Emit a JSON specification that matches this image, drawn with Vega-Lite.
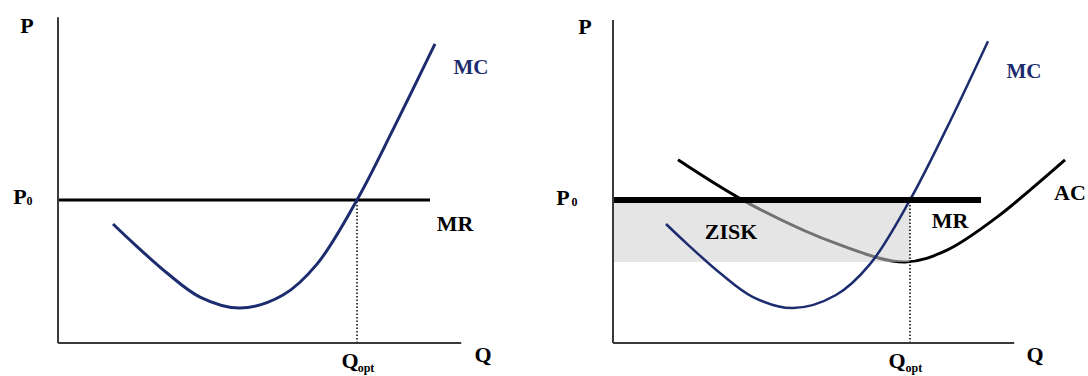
{
  "$schema": "https://vega.github.io/schema/vega-lite/v6.json",
  "padding": 0,
  "spacing": 0,
  "background": "white",
  "config": {
    "view": {"stroke": null},
    "text": {"font": "Liberation Serif", "fontWeight": "bold"}
  },
  "datasets": {
    "mc_left": [
      {"q": 1.375, "p": 3.47}, {"q": 1.875, "p": 2.92}, {"q": 2.725, "p": 2.04},
      {"q": 3.55, "p": 1.34}, {"q": 4.55, "p": 1.02}, {"q": 5.625, "p": 1.4},
      {"q": 6.475, "p": 2.3}, {"q": 7.475, "p": 4.17},
      {"q": 8.375, "p": 6.22}, {"q": 9.425, "p": 8.72}
    ],
    "mc_right": [
      {"q": 1.325, "p": 3.47}, {"q": 1.825, "p": 2.92}, {"q": 2.675, "p": 2.04},
      {"q": 3.5, "p": 1.34}, {"q": 4.5, "p": 1.02}, {"q": 5.575, "p": 1.4},
      {"q": 6.425, "p": 2.3}, {"q": 7.425, "p": 4.17},
      {"q": 8.325, "p": 6.22}, {"q": 9.375, "p": 8.8}
    ],
    "ac": [
      {"q": 1.625, "p": 5.34}, {"q": 3.425, "p": 4.05}, {"q": 5.675, "p": 2.86},
      {"q": 7.3, "p": 2.36}, {"q": 8.35, "p": 2.71}, {"q": 9.6, "p": 3.67},
      {"q": 10.425, "p": 4.46}, {"q": 11.3, "p": 5.34}
    ]
  },
  "hconcat": [
    {
      "width": 544,
      "height": 376,
      "encoding": {
        "x": {"field": "q", "type": "quantitative", "axis": null,
              "scale": {"domain": [-1.45, 12.15], "nice": false, "zero": false}},
        "y": {"field": "p", "type": "quantitative", "axis": null,
              "scale": {"domain": [-0.962, 10], "nice": false, "zero": false}}
      },
      "layer": [
        {
          "data": {"values": [{"q": 0, "p": 4.17, "q2": 9.3, "p2": 4.17}]},
          "mark": {"type": "rule", "color": "#000000", "strokeWidth": 3},
          "encoding": {"x2": {"field": "q2"}, "y2": {"field": "p2"}}
        },
        {
          "data": {"values": [{"q": 7.475, "p": 0, "q2": 7.475, "p2": 4.17}]},
          "mark": {"type": "rule", "color": "#000000", "strokeWidth": 1.5, "strokeDash": [1.5, 2]},
          "encoding": {"x2": {"field": "q2"}, "y2": {"field": "p2"}}
        },
        {
          "data": {"name": "mc_left"},
          "mark": {"type": "line", "color": "#1c2c6e", "strokeWidth": 3, "interpolate": "catmull-rom"},
          "encoding": {"order": {"field": "q", "type": "quantitative"}}
        },
        {
          "data": {"values": [
            {"q": 0, "p": 0, "q2": 0, "p2": 9.5},
            {"q": 0, "p": 0, "q2": 10.08, "p2": 0}
          ]},
          "mark": {"type": "rule", "color": "#3a3a3a", "strokeWidth": 2},
          "encoding": {"x2": {"field": "q2"}, "y2": {"field": "p2"}}
        },
        {
          "data": {"values": [
            {"label": "P", "q": -0.775, "p": 9.04},
            {"label": "P", "q": -0.95, "p": 4.05},
            {"label": "MR", "q": 9.925, "p": 3.27},
            {"label": "Q", "q": 10.625, "p": -0.554},
            {"label": "Q", "q": 7.3, "p": -0.729}
          ]},
          "mark": {"type": "text", "fontSize": 22, "align": "center", "baseline": "alphabetic", "color": "#000000"},
          "encoding": {"text": {"field": "label"}}
        },
        {
          "data": {"values": [{"label": "MC", "q": 10.325, "p": 7.84}]},
          "mark": {"type": "text", "fontSize": 21, "align": "center", "baseline": "alphabetic", "color": "#1c2c6e"},
          "encoding": {"text": {"field": "label"}}
        },
        {
          "data": {"values": [
            {"label": "0", "q": -0.71, "p": 4.02},
            {"label": "opt", "q": 7.7, "p": -0.845}
          ]},
          "mark": {"type": "text", "fontSize": 12, "align": "center", "baseline": "alphabetic", "color": "#000000"},
          "encoding": {"text": {"field": "label"}}
        }
      ]
    },
    {
      "width": 544,
      "height": 376,
      "encoding": {
        "x": {"field": "q", "type": "quantitative", "axis": null,
              "scale": {"domain": [-1.725, 11.875], "nice": false, "zero": false}},
        "y": {"field": "p", "type": "quantitative", "axis": null,
              "scale": {"domain": [-0.962, 10], "nice": false, "zero": false}}
      },
      "layer": [
        {
          "data": {"name": "ac"},
          "mark": {"type": "line", "color": "#000000", "strokeWidth": 3, "interpolate": "catmull-rom"},
          "encoding": {"order": {"field": "q", "type": "quantitative"}}
        },
        {
          "data": {"values": [{"q": 0, "p": 2.36, "q2": 7.425, "p2": 4.17}]},
          "mark": {"type": "rect", "color": "#d0d0d0", "opacity": 0.55},
          "encoding": {"x2": {"field": "q2"}, "y2": {"field": "p2"}}
        },
        {
          "data": {"values": [{"q": 7.425, "p": 0, "q2": 7.425, "p2": 4.17}]},
          "mark": {"type": "rule", "color": "#000000", "strokeWidth": 1.5, "strokeDash": [1.5, 2]},
          "encoding": {"x2": {"field": "q2"}, "y2": {"field": "p2"}}
        },
        {
          "data": {"name": "mc_right"},
          "mark": {"type": "line", "color": "#1c2c6e", "strokeWidth": 2.5, "interpolate": "catmull-rom"},
          "encoding": {"order": {"field": "q", "type": "quantitative"}}
        },
        {
          "data": {"values": [{"q": 0, "p": 4.17, "q2": 9.2, "p2": 4.17}]},
          "mark": {"type": "rule", "color": "#000000", "strokeWidth": 6},
          "encoding": {"x2": {"field": "q2"}, "y2": {"field": "p2"}}
        },
        {
          "data": {"values": [
            {"q": 0, "p": 0, "q2": 0, "p2": 9.42},
            {"q": 0, "p": 0, "q2": 10.03, "p2": 0}
          ]},
          "mark": {"type": "rule", "color": "#3a3a3a", "strokeWidth": 2},
          "encoding": {"x2": {"field": "q2"}, "y2": {"field": "p2"}}
        },
        {
          "data": {"values": [
            {"label": "P", "q": -0.7, "p": 9.01},
            {"label": "P", "q": -1.25, "p": 4.02},
            {"label": "MR", "q": 8.425, "p": 3.35},
            {"label": "AC", "q": 11.425, "p": 4.17},
            {"label": "Q", "q": 10.55, "p": -0.554},
            {"label": "Q", "q": 7.1, "p": -0.729},
            {"label": "ZISK", "q": 2.95, "p": 3.03}
          ]},
          "mark": {"type": "text", "fontSize": 22, "align": "center", "baseline": "alphabetic", "color": "#000000"},
          "encoding": {"text": {"field": "label"}}
        },
        {
          "data": {"values": [{"label": "MC", "q": 10.275, "p": 7.73}]},
          "mark": {"type": "text", "fontSize": 21, "align": "center", "baseline": "alphabetic", "color": "#1c2c6e"},
          "encoding": {"text": {"field": "label"}}
        },
        {
          "data": {"values": [
            {"label": "0", "q": -0.96, "p": 3.99},
            {"label": "opt", "q": 7.52, "p": -0.845}
          ]},
          "mark": {"type": "text", "fontSize": 12, "align": "center", "baseline": "alphabetic", "color": "#000000"},
          "encoding": {"text": {"field": "label"}}
        }
      ]
    }
  ]
}
